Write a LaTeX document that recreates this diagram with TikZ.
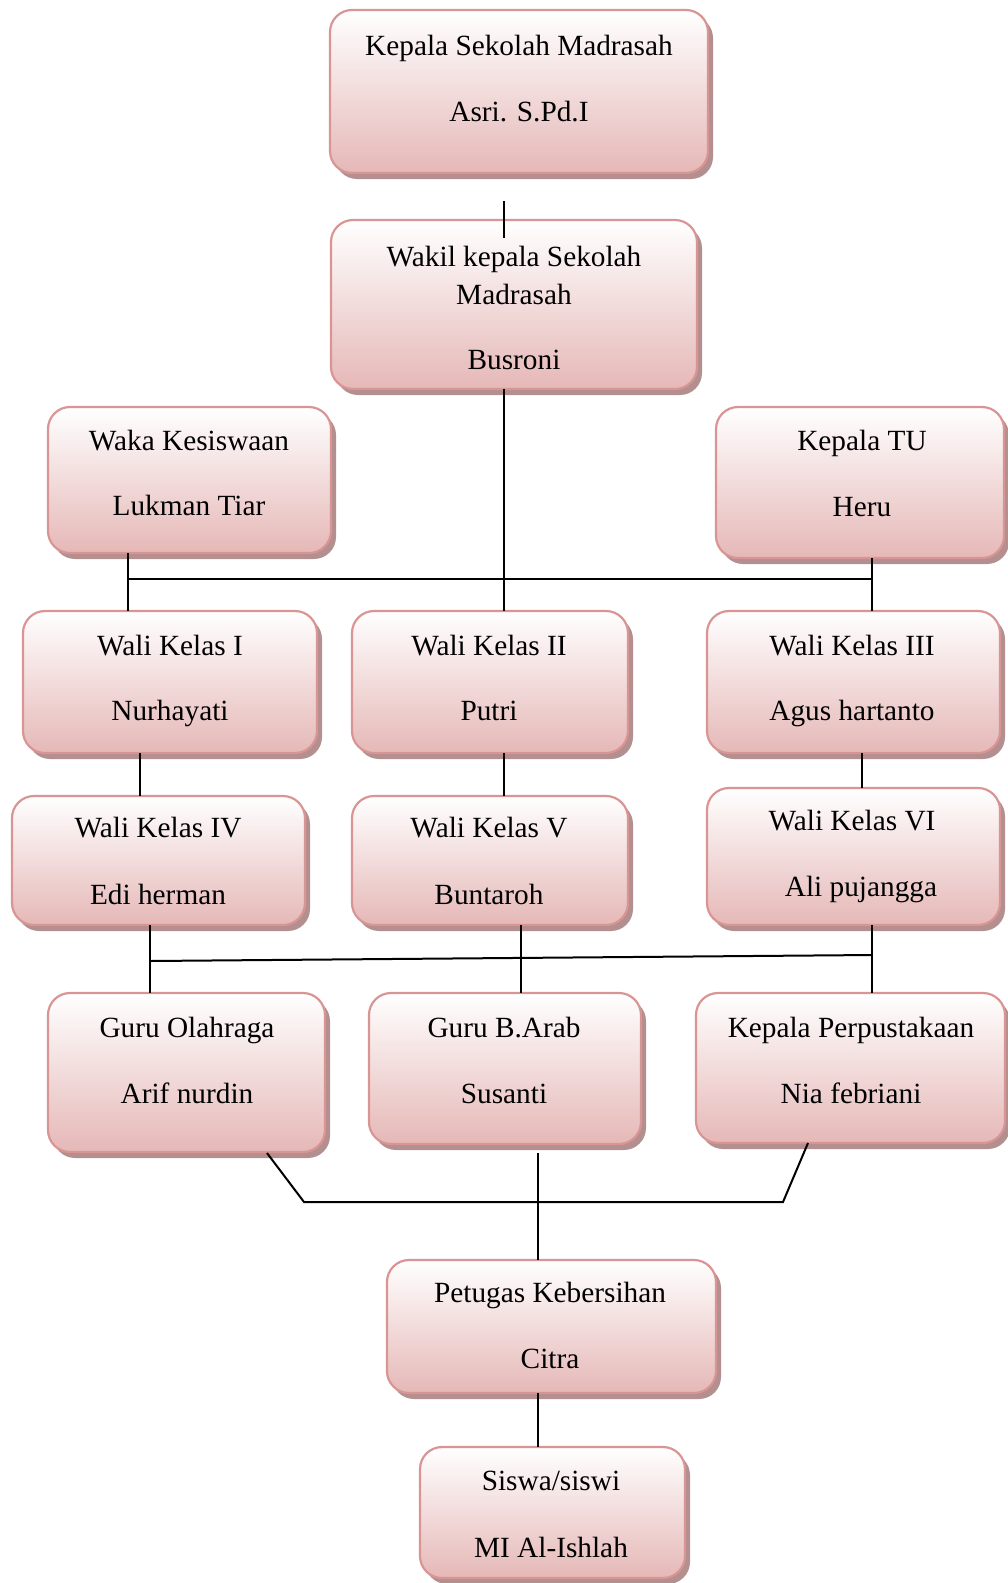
\documentclass[tikz,border=0pt]{standalone}
\usepackage{fontspec}
\setmainfont{Liberation Serif}
\definecolor{bord}{HTML}{D99594}
\definecolor{fillb}{HTML}{E5B8B7}
\definecolor{shad}{HTML}{B38F8F}
\tikzset{
 orgbox/.style={draw=bord, line width=2.2pt, rounded corners=22pt, top color=white, bottom color=fillb, inner sep=0pt, outer sep=0pt},
 lbl/.style={anchor=base, inner sep=0pt, font=\fontsize{29.3}{35}\selectfont},
 conn/.style={line width=2pt, black}
}
\newcommand\OrgBox[5]{%
 \fill[shad, rounded corners=22pt] (#2+5,#3+6) rectangle (#4+5,#5+6);
 \node[orgbox, minimum width={(#4-#2)*1pt}, minimum height={(#5-#3)*1pt}] (#1) at ({(#2+#4)/2},{(#3+#5)/2}) {};
}
\newcommand\Txt[4]{\node[lbl] (#1) at (#2,#3) {#4};}
\begin{document}
\begin{tikzpicture}[x=1pt,y=-1pt]
\useasboundingbox (0,0) rectangle (1008,1583);
% boxes
\OrgBox{b1}{330}{10}{708}{173}
\OrgBox{b2}{331}{220}{697}{389}
\OrgBox{b3}{48}{407}{331}{553}
\OrgBox{b4}{716}{407}{1004}{558}
\OrgBox{w1}{23}{611}{317}{753}
\OrgBox{w2}{352}{611}{628}{753}
\OrgBox{w3}{707}{611}{1000}{753}
\OrgBox{w4}{12}{796}{305}{925}
\OrgBox{w5}{352}{796}{628}{925}
\OrgBox{w6}{707}{788}{1000}{925}
\OrgBox{g1}{48}{993}{325}{1152}
\OrgBox{g2}{369}{993}{641}{1144}
\OrgBox{g3}{696}{993}{1005}{1143}
\OrgBox{p}{387}{1260}{716}{1393}
\OrgBox{s}{420}{1447}{685}{1578}
% texts
\Txt{t1a}{519}{55}{Kepala Sekolah Madrasah}
\Txt{t1b}{519}{121}{Asri. S.Pd.I}
\Txt{t2a}{514}{266}{Wakil kepala Sekolah}
\Txt{t2b}{514}{304}{Madrasah}
\Txt{t2c}{514}{369}{Busroni}
\Txt{t3a}{189}{450}{Waka Kesiswaan}
\Txt{t3b}{189}{515}{Lukman Tiar}
\Txt{t4a}{862}{450}{Kepala TU}
\Txt{t4b}{862}{516}{Heru}
\Txt{tw1a}{170}{655}{Wali Kelas I}
\Txt{tw1b}{170}{720}{Nurhayati}
\Txt{tw2a}{489}{655}{Wali Kelas II}
\Txt{tw2b}{489}{720}{Putri}
\Txt{tw3a}{852}{655}{Wali Kelas III}
\Txt{tw3b}{852}{720}{Agus hartanto}
\Txt{tw4a}{158}{837}{Wali Kelas IV}
\Txt{tw4b}{158}{904}{Edi herman}
\Txt{tw5a}{489}{837}{Wali Kelas V}
\Txt{tw5b}{489}{904}{Buntaroh}
\Txt{tw6a}{852}{830}{Wali Kelas VI}
\Txt{tw6b}{861}{896}{Ali pujangga}
\Txt{tg1a}{187}{1037}{Guru Olahraga}
\Txt{tg1b}{187}{1103}{Arif nurdin}
\Txt{tg2a}{504}{1037}{Guru B.Arab}
\Txt{tg2b}{504}{1103}{Susanti}
\Txt{tg3a}{851}{1037}{Kepala Perpustakaan}
\Txt{tg3b}{851}{1103}{Nia febriani}
\Txt{tpa}{550}{1302}{Petugas Kebersihan}
\Txt{tpb}{550}{1368}{Citra}
\Txt{tsa}{551}{1490}{Siswa/siswi}
\Txt{tsb}{551}{1557}{MI Al-Ishlah}
% connector coordinates
\coordinate (a1) at (504,201);
\coordinate (a2) at (504,238);
\coordinate (x504) at (504,0);
\coordinate (hL) at (128,579);
\coordinate (hR) at (872,579);
\coordinate (x140) at (140,0);
\coordinate (x862) at (862,0);
\coordinate (gL) at (150,961);
\coordinate (gR) at (872,955);
\coordinate (x521) at (521,0);
\coordinate (d1) at (267,1153);
\coordinate (d2) at (304,1202);
\coordinate (d3) at (783,1202);
\coordinate (d4) at (808,1143);
\coordinate (e1) at (538,1153);
% connectors
\draw[conn] (a1) -- (a2);
\draw[conn] (b2.south -| x504) -- (w2.north -| x504);
\draw[conn] (hL) -- (hR);
\draw[conn] (b3.south -| hL) -- (w1.north -| hL);
\draw[conn] (b4.south -| hR) -- (w3.north -| hR);
\draw[conn] (w1.south -| x140) -- (w4.north -| x140);
\draw[conn] (w2.south -| x504) -- (w5.north -| x504);
\draw[conn] (w3.south -| x862) -- (w6.north -| x862);
\draw[conn] (gL) -- (gR);
\draw[conn] (w4.south -| gL) -- (g1.north -| gL);
\draw[conn] (w5.south -| x521) -- (g2.north -| x521);
\draw[conn] (w6.south -| gR) -- (g3.north -| gR);
\draw[conn] (d1) -- (d2) -- (d3) -- (d4);
\draw[conn] (e1) -- (p.north -| e1);
\draw[conn] (p.south -| e1) -- (s.north -| e1);
\end{tikzpicture}
\end{document}
